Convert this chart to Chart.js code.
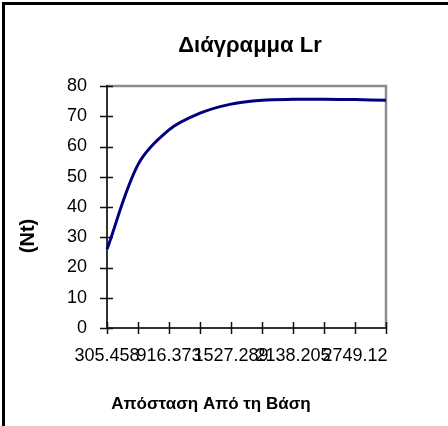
<!DOCTYPE html>
<html>
<head>
<meta charset="utf-8">
<script src="https://cdn.jsdelivr.net/npm/chart.js@4"></script>
<style>
  html, body { margin: 0; padding: 0; background: #fff; }
  canvas { display: block; }
</style>
</head>
<body>
<canvas id="c" width="448" height="426"></canvas>
<script>
const categories = ['305.458','610.916','916.373','1221.831','1527.289','1832.747','2138.205','2443.662','2749.12','3054.578'];
const seriesValues = [26, 54, 65.5, 71, 74, 75.3, 75.6, 75.6, 75.5, 75.3];
const yTicks = [0, 10, 20, 30, 40, 50, 60, 70, 80];
const titleText = 'Διάγραμμα Lr';
const xTitleText = 'Απόσταση Από τη Βάση';
const yTitleText = '(Nt)';

const FONT = '"Liberation Sans", Arial, sans-serif';

const framePlugin = {
  id: 'frame',
  beforeDraw(chart) {
    const ctx = chart.ctx;
    ctx.save();
    ctx.fillStyle = '#fff';
    ctx.fillRect(0, 0, chart.width, chart.height);
    ctx.strokeStyle = '#000';
    ctx.lineWidth = 3;
    ctx.strokeRect(3.5, 3.5, chart.width + 10, chart.height + 10);
    ctx.restore();
  },
  beforeDatasetsDraw(chart) {
    const ctx = chart.ctx;
    const a = chart.chartArea;
    const xs = chart.scales.x, ys = chart.scales.y;
    ctx.save();
    ctx.strokeStyle = '#8c8c8c';
    ctx.lineWidth = 2.5;
    ctx.beginPath();
    ctx.moveTo(a.left, a.top);
    ctx.lineTo(a.right, a.top);
    ctx.lineTo(a.right, a.bottom);
    ctx.stroke();
    ctx.strokeStyle = '#333';
    ctx.lineWidth = 2;
    ctx.beginPath();
    ctx.moveTo(a.left, a.top - 1);
    ctx.lineTo(a.left, a.bottom);
    ctx.lineTo(a.right, a.bottom);
    ctx.stroke();
    ctx.strokeStyle = '#111';
    ctx.lineWidth = 1.5;
    ctx.beginPath();
    for (let i = 0; i < ys.ticks.length; i++) {
      const y = Math.round(ys.getPixelForTick(i)) + 0.5;
      ctx.moveTo(a.left - 7, y);
      ctx.lineTo(a.left + 6, y);
    }
    for (let i = 0; i < xs.ticks.length; i++) {
      const x = Math.round(xs.getPixelForTick(i)) + 0.5;
      ctx.moveTo(x, a.bottom - 6);
      ctx.lineTo(x, a.bottom + 6);
    }
    ctx.stroke();
    ctx.restore();
  },
  afterDraw(chart) {
    const ctx = chart.ctx;
    ctx.save();
    ctx.fillStyle = '#000';
    ctx.textAlign = 'center';
    ctx.textBaseline = 'alphabetic';
    ctx.font = 'bold 22px ' + FONT;
    ctx.fillText(titleText, 250, 52);
    ctx.font = 'bold 17px ' + FONT;
    ctx.fillText(xTitleText, 211, 409);
    ctx.translate(34, 236);
    ctx.rotate(-Math.PI / 2);
    ctx.font = 'bold 20px ' + FONT;
    ctx.fillText(yTitleText, 0, 0);
    ctx.restore();
  }
};

new Chart(document.getElementById('c'), {
  type: 'line',
  data: {
    labels: categories,
    datasets: [{
      data: seriesValues,
      borderColor: '#000080',
      borderWidth: 3,
      pointRadius: 0,
      fill: false,
      tension: 0.33,
      clip: 4
    }]
  },
  options: {
    responsive: false,
    animation: false,
    devicePixelRatio: 1,
    layout: { padding: { left: 0, top: 86, right: 62, bottom: 0 } },
    plugins: { legend: { display: false }, tooltip: { enabled: false }, title: { display: false } },
    scales: {
      x: {
        type: 'category',
        offset: false,
        grid: { display: false, drawTicks: false },
        border: { display: false },
        ticks: {
          autoSkip: false,
          maxRotation: 0,
          minRotation: 0,
          padding: 17,
          color: '#000',
          font: { family: FONT, size: 18 },
          callback: function(v, i) { return i % 2 === 0 ? categories[i] : ''; }
        },
        afterFit(s) { s.height = 98; }
      },
      y: {
        min: 0,
        max: 80,
        afterBuildTicks(s) { s.ticks = yTicks.map(v => ({ value: v })); },
        grid: { display: false, drawTicks: false },
        border: { display: false },
        ticks: {
          padding: 20,
          color: '#000',
          font: { family: FONT, size: 18 }
        },
        afterFit(s) { s.width = 107; }
      }
    }
  },
  plugins: [framePlugin]
});
</script>
</body>
</html>
